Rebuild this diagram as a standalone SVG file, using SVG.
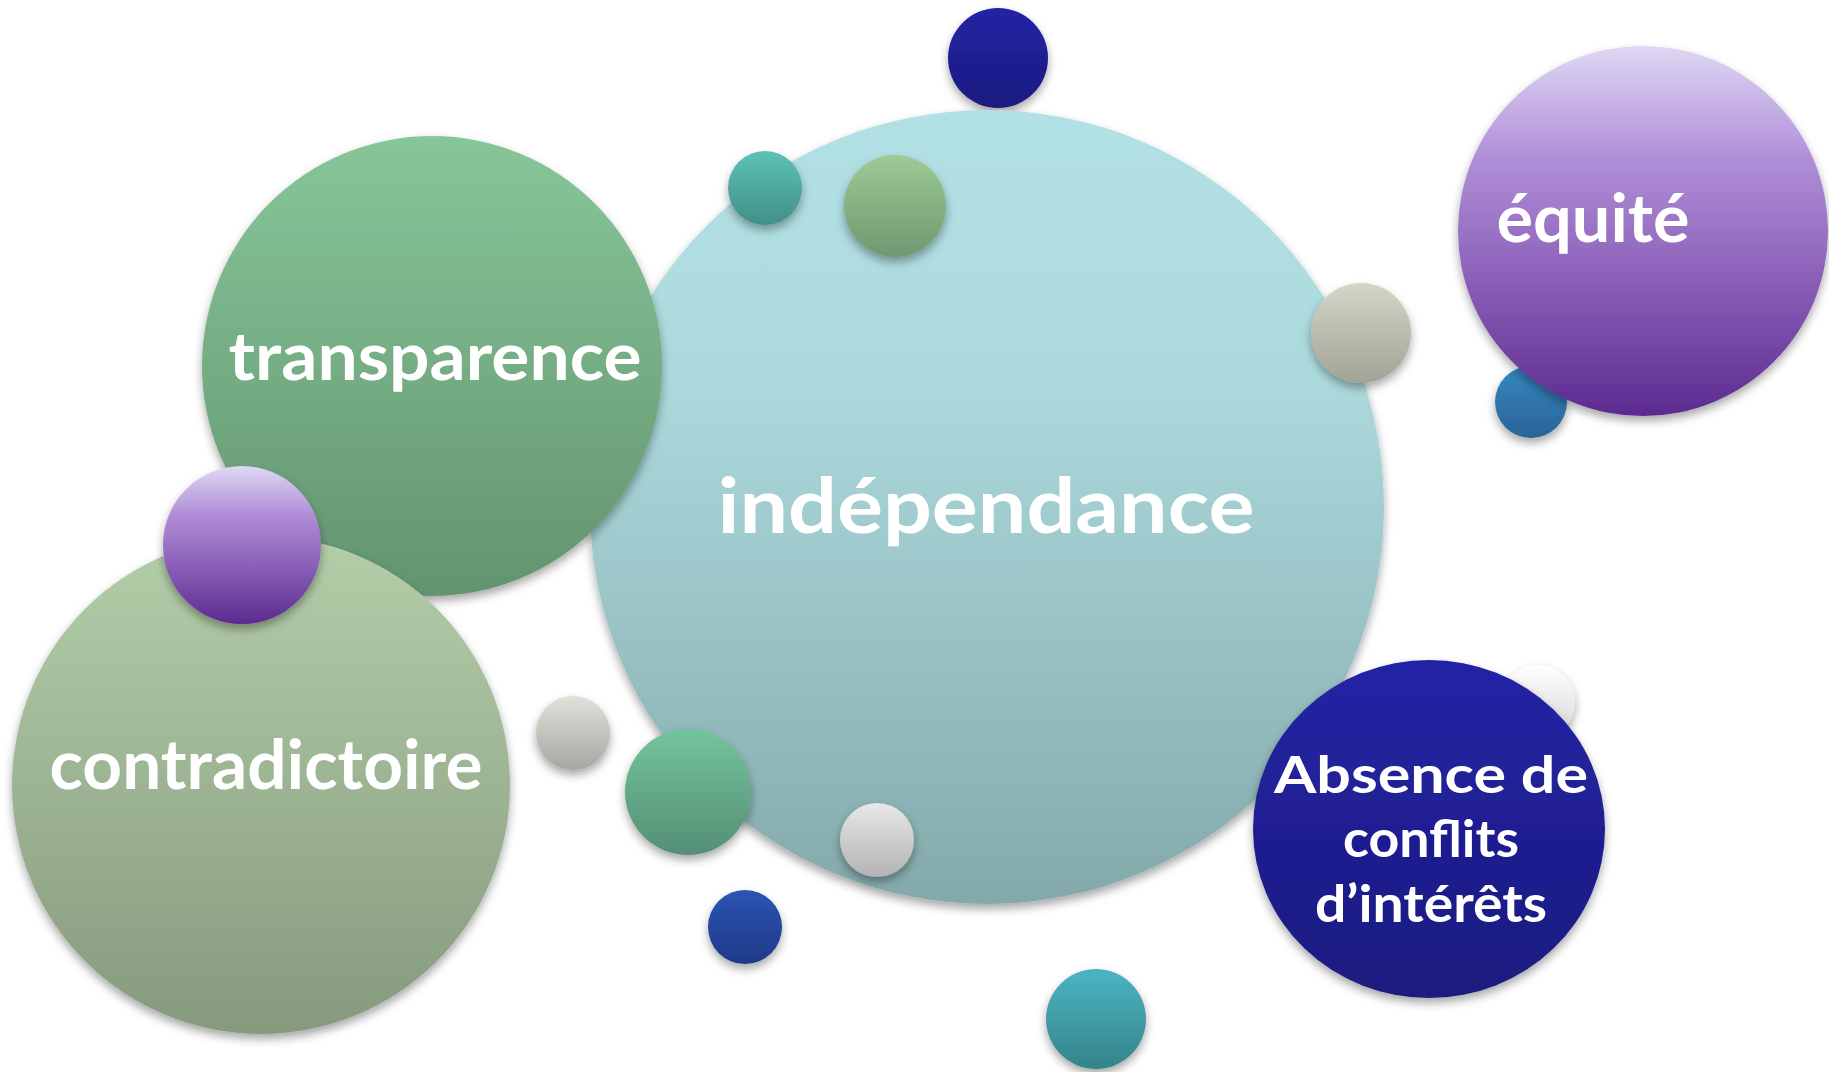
<svg xmlns="http://www.w3.org/2000/svg" width="1829" height="1072" viewBox="0 0 1829 1072">
<defs>
<filter id="sh" x="-20%" y="-20%" width="140%" height="150%">
<feDropShadow dx="0" dy="5" stdDeviation="5" flood-color="#000" flood-opacity="0.35"/>
</filter>
<linearGradient id="gBig" x1="0" y1="0" x2="0" y2="1"><stop offset="0" stop-color="#B2E1E5"/><stop offset="0.35" stop-color="#ACD9DC"/><stop offset="1" stop-color="#84A9AB"/></linearGradient>
<linearGradient id="gTrans" x1="0" y1="0" x2="0" y2="1"><stop offset="0" stop-color="#87C699"/><stop offset="1" stop-color="#63946F"/></linearGradient>
<linearGradient id="gContra" x1="0" y1="0" x2="0" y2="1"><stop offset="0" stop-color="#B4CEA9"/><stop offset="1" stop-color="#869A7E"/></linearGradient>
<linearGradient id="gPurple" x1="0" y1="0" x2="0" y2="1"><stop offset="0" stop-color="#DED8F3"/><stop offset="0.3" stop-color="#B18FD8"/><stop offset="0.6" stop-color="#8E64BB"/><stop offset="1" stop-color="#5C2A90"/></linearGradient>
<linearGradient id="gNavy" x1="0" y1="0" x2="0" y2="1"><stop offset="0" stop-color="#2424A6"/><stop offset="1" stop-color="#1B1A7F"/></linearGradient>
<linearGradient id="gTeal" x1="0" y1="0" x2="0" y2="1"><stop offset="0" stop-color="#5EC2B4"/><stop offset="1" stop-color="#428F88"/></linearGradient>
<linearGradient id="gSage" x1="0" y1="0" x2="0" y2="1"><stop offset="0" stop-color="#9DCA95"/><stop offset="1" stop-color="#6E9970"/></linearGradient>
<linearGradient id="gGray" x1="0" y1="0" x2="0" y2="1"><stop offset="0" stop-color="#D4D5C7"/><stop offset="1" stop-color="#A2A396"/></linearGradient>
<linearGradient id="gBlue" x1="0" y1="0" x2="0" y2="1"><stop offset="0" stop-color="#3487C2"/><stop offset="1" stop-color="#2A6496"/></linearGradient>
<linearGradient id="gLgray" x1="0" y1="0" x2="0" y2="1"><stop offset="0" stop-color="#E1E0DA"/><stop offset="1" stop-color="#A7A6A0"/></linearGradient>
<linearGradient id="gMint" x1="0" y1="0" x2="0" y2="1"><stop offset="0" stop-color="#73C49D"/><stop offset="1" stop-color="#548F75"/></linearGradient>
<linearGradient id="gWhite" x1="0" y1="0" x2="0" y2="1"><stop offset="0" stop-color="#E8E8E8"/><stop offset="1" stop-color="#B3B3B3"/></linearGradient>
<linearGradient id="gRoyal" x1="0" y1="0" x2="0" y2="1"><stop offset="0" stop-color="#2C55B4"/><stop offset="1" stop-color="#1E3987"/></linearGradient>
<linearGradient id="gCyan" x1="0" y1="0" x2="0" y2="1"><stop offset="0" stop-color="#4BB4C4"/><stop offset="1" stop-color="#348488"/></linearGradient>
<linearGradient id="gPale" x1="0" y1="0" x2="0" y2="1"><stop offset="0" stop-color="#FFFFFF"/><stop offset="1" stop-color="#D6D6D6"/></linearGradient>
</defs>
<style>
.c{filter:url(#sh)}
.t{font-family:Lato,"Liberation Sans",sans-serif;font-weight:bold;fill:#FFFFFF}
</style>
<rect width="1829" height="1072" fill="#FFFFFF"/>
<g id="connectors"></g>
<g id="node-pale"><circle class="c" cx="1538" cy="702" r="37" fill="url(#gPale)"/></g>
<g id="node-blue"><circle class="c" cx="1531" cy="402" r="36" fill="url(#gBlue)"/></g>
<g id="node-navy"><circle class="c" cx="998" cy="58" r="50" fill="url(#gNavy)"/></g>
<g id="node-independance">
<circle class="c" cx="987" cy="507" r="397" fill="url(#gBig)"/>
<text class="t" x="986" y="533" font-size="76" text-anchor="middle" textLength="537" lengthAdjust="spacingAndGlyphs">indépendance</text>
</g>
<g id="node-transparence">
<circle class="c" cx="432" cy="366" r="230" fill="url(#gTrans)"/>
<text class="t" x="435" y="380" font-size="66" text-anchor="middle" textLength="413" lengthAdjust="spacingAndGlyphs">transparence</text>
</g>
<g id="node-contradictoire">
<circle class="c" cx="261" cy="785" r="249" fill="url(#gContra)"/>
<text class="t" x="266" y="789" font-size="68" text-anchor="middle" textLength="433" lengthAdjust="spacingAndGlyphs">contradictoire</text>
</g>
<g id="node-purple-small"><circle class="c" cx="242" cy="545" r="79" fill="url(#gPurple)"/></g>
<g id="node-teal"><circle class="c" cx="765" cy="188" r="37" fill="url(#gTeal)"/></g>
<g id="node-sage"><circle class="c" cx="895" cy="206" r="51" fill="url(#gSage)"/></g>
<g id="node-gray"><circle class="c" cx="1361" cy="333" r="50" fill="url(#gGray)"/></g>
<g id="node-lgray"><circle class="c" cx="573" cy="733" r="37" fill="url(#gLgray)"/></g>
<g id="node-mint"><circle class="c" cx="688" cy="792" r="63" fill="url(#gMint)"/></g>
<g id="node-white"><circle class="c" cx="877" cy="840" r="37" fill="url(#gWhite)"/></g>
<g id="node-royal"><circle class="c" cx="745" cy="927" r="37" fill="url(#gRoyal)"/></g>
<g id="node-cyan"><circle class="c" cx="1096" cy="1019" r="50" fill="url(#gCyan)"/></g>
<g id="node-equite">
<circle class="c" cx="1643" cy="231" r="185" fill="url(#gPurple)"/>
<text class="t" x="1593" y="242" font-size="66" text-anchor="middle" textLength="193" lengthAdjust="spacingAndGlyphs">équité</text>
</g>
<g id="node-absence">
<ellipse class="c" cx="1429" cy="829" rx="176" ry="169" fill="url(#gNavy)"/>
<text class="t" x="1431" y="793" font-size="52" text-anchor="middle" textLength="314" lengthAdjust="spacingAndGlyphs">Absence de</text>
<text class="t" x="1431" y="857" font-size="52" text-anchor="middle" textLength="176" lengthAdjust="spacingAndGlyphs">conflits</text>
<text class="t" x="1431" y="922" font-size="52" text-anchor="middle" textLength="232" lengthAdjust="spacingAndGlyphs">d’intérêts</text>
</g>
</svg>
